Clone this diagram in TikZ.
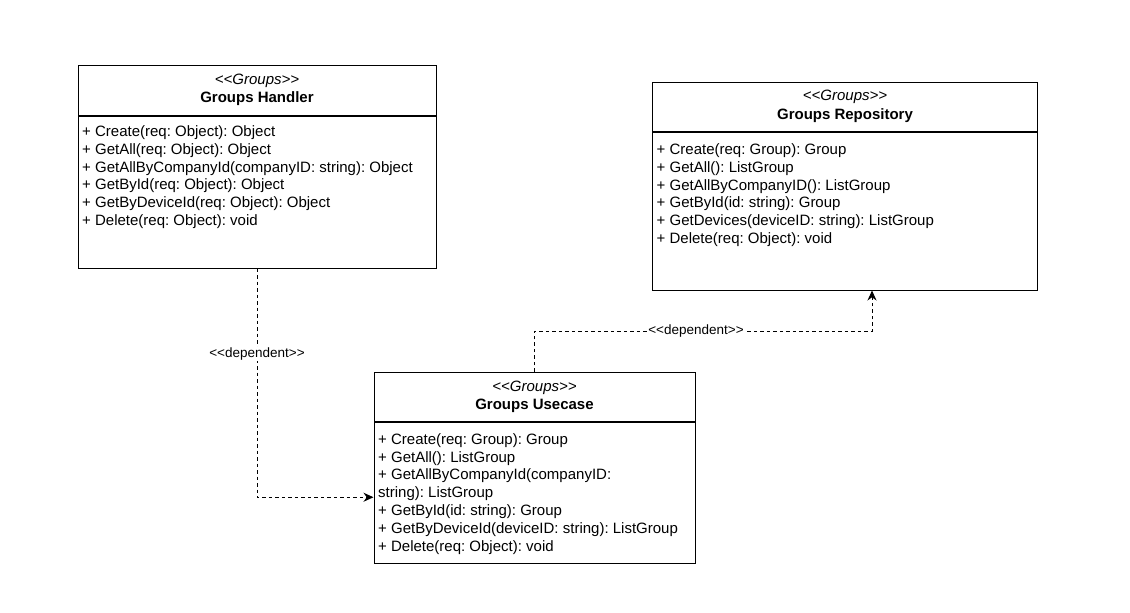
\documentclass[tikz,border=0pt]{standalone}
\usepackage{fontspec}
\setmainfont{Liberation Sans}
\frenchspacing
\usetikzlibrary{positioning,arrows.meta}
\newcommand\stereo[1]{\textit{<\kern0pt<#1>\kern0pt>}}
\newcommand\depname{<\kern0pt<dependent>\kern0pt>}
\tikzset{
  classhead/.style={draw, line width=1pt, align=center, inner sep=0pt, font=\fontsize{15}{18.5}\selectfont},
  classbody/.style={draw, line width=1pt, inner sep=0pt},
  ops/.style={anchor=north west, align=left, inner sep=0pt, font=\fontsize{15}{17.8}\selectfont},
  dependent/.style={line width=1pt, dash pattern=on 3.5pt off 3pt, -{Stealth[length=10pt,width=9pt]}},
  deplabel/.style={fill=white, inner sep=1pt, font=\fontsize{13.5}{16}\selectfont},
}
\begin{document}
\begin{tikzpicture}[x=1pt,y=-1pt]
  \useasboundingbox[fill=white] (0,0) rectangle (1130,613);
  % handler
  \node[classhead, minimum width=358pt, minimum height=50pt] (handler) at (257,90) {\stereo{Groups}\\\textbf{Groups Handler}};
  \node[classbody, minimum width=358pt, minimum height=152pt, below=0pt of handler] (handlerbody) {};
  \node[ops] (handlerops) at ([xshift=4.5pt,yshift=-10pt]handlerbody.north west) {+ Create(req: Object): Object\\+ GetAll(req: Object): Object\\+ GetAllByCompanyId(companyID: string): Object\\+ GetById(req: Object): Object\\+ GetByDeviceId(req: Object): Object\\+ Delete(req: Object): void};
  % repository
  \node[classhead, minimum width=385pt, minimum height=49pt] (repo) at (845,106.5) {\stereo{Groups}\\\textbf{Groups Repository}};
  \node[classbody, minimum width=385pt, minimum height=158pt, below=0pt of repo] (repobody) {};
  \node[ops] (repoops) at ([xshift=4.5pt,yshift=-12pt]repobody.north west) {+ Create(req: Group): Group\\+ GetAll(): ListGroup\\+ GetAllByCompanyID(): ListGroup\\+ GetById(id: string): Group\\+ GetDevices(deviceID: string): ListGroup\\+ Delete(req: Object): void};
  % usecase
  \node[classhead, minimum width=321pt, minimum height=49.5pt] (usecase) at (534.5,397) {\stereo{Groups}\\\textbf{Groups Usecase}};
  \node[classbody, minimum width=321pt, minimum height=141pt, below=0pt of usecase] (usecasebody) {};
  \node[ops] (usecaseops) at ([xshift=4.5pt,yshift=-11pt]usecasebody.north west) {+ Create(req: Group): Group\\+ GetAll(): ListGroup\\+ GetAllByCompanyId(companyID:\\string): ListGroup\\+ GetById(id: string): Group\\+ GetByDeviceId(deviceID: string): ListGroup\\+ Delete(req: Object): void};
  % dependencies
  \coordinate (bend) at (696,331);
  \draw[dependent] (handlerbody.south) |- ([yshift=-4pt]usecasebody.west);
  \node[deplabel] (dep1) at (handlerbody.south |- 0,354) {\depname};
  \draw[dependent] (usecase.north) |- (bend) -| ([xshift=27pt]repobody.south);
  \node[deplabel] (dep2) at (bend) {\depname};
\end{tikzpicture}
\end{document}
